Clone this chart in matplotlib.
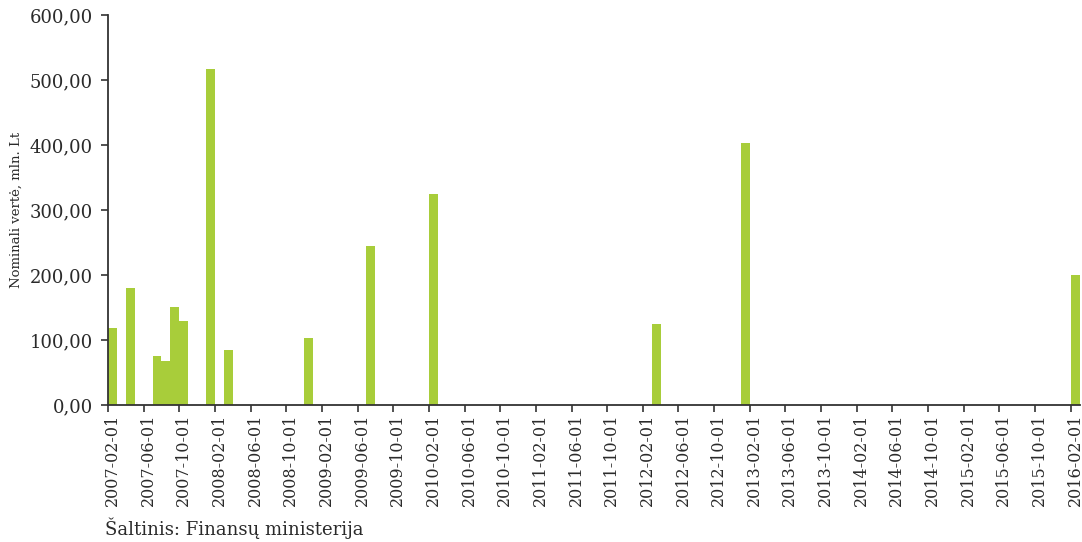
import matplotlib
matplotlib.use("Agg")
import matplotlib.pyplot as plt
import numpy as np
import pandas as pd

# Category axis: monthly from 2007-02 to 2016-02
months = pd.date_range("2007-02-01", "2016-02-01", freq="MS").strftime("%Y-%m-%d").tolist()

# Months with issues and their nominal values (mln. Lt)
bar_months = ["2007-02-01", "2007-04-01", "2007-07-01", "2007-08-01", "2007-09-01",
              "2007-10-01", "2008-01-01", "2008-03-01", "2008-12-01", "2009-07-01",
              "2010-02-01", "2012-03-01", "2013-01-01", "2016-02-01"]
bar_values = [119, 180, 75, 68, 151, 129, 517, 85, 103, 245, 325, 125, 403, 200]

y_ticks = [0, 100, 200, 300, 400, 500, 600]
y_labels = ["0,00", "100,00", "200,00", "300,00", "400,00", "500,00", "600,00"]

values = [0.0] * len(months)
for m, v in zip(bar_months, bar_values):
    values[months.index(m)] = v

plt.rcParams['font.family'] = ['DejaVu Serif']

fig = plt.figure(figsize=(10.82, 5.42), dpi=100)
ax = fig.add_axes([0.0998, 0.2528, 0.898, 0.7195])

x = np.arange(len(months))
ax.bar(x, values, width=1.0, color="#a8cd3a", linewidth=0)

ax.set_xlim(-0.5, len(months) - 0.5)
ax.set_ylim(0, 600)

ax.set_yticks(y_ticks)
ax.set_yticklabels(y_labels, fontsize=13, color="#2a2a2a")

label_idx = list(range(0, len(months), 4))
ax.set_xticks([i - 0.5 for i in label_idx])
ax.set_xticklabels([])
ax.set_xticks(label_idx, minor=True)
ax.set_xticklabels([months[i] for i in label_idx], minor=True, rotation=90,
                   fontsize=11.5, color="#2a2a2a")
ax.tick_params(axis="x", which="major", direction="out", length=5, width=1.2, color="#333333")
ax.tick_params(axis="x", which="minor", length=0, pad=6)
ax.tick_params(axis="y", direction="out", length=5, width=1.2, color="#333333", pad=6)

for s in ["top", "right"]:
    ax.spines[s].set_visible(False)
for s in ["left", "bottom"]:
    ax.spines[s].set_color("#333333")
    ax.spines[s].set_linewidth(1.3)

ax.set_ylabel("Nominali vertė, mln. Lt", fontsize=9.5, color="#2a2a2a")
ax.yaxis.set_label_coords(-0.088, 0.5)

fig.text(0.097, 0.005, "Šaltinis: Finansų ministerija", fontsize=13, color="#2a2a2a",
         ha="left", va="bottom")

fig.savefig("out.png", dpi=100)
